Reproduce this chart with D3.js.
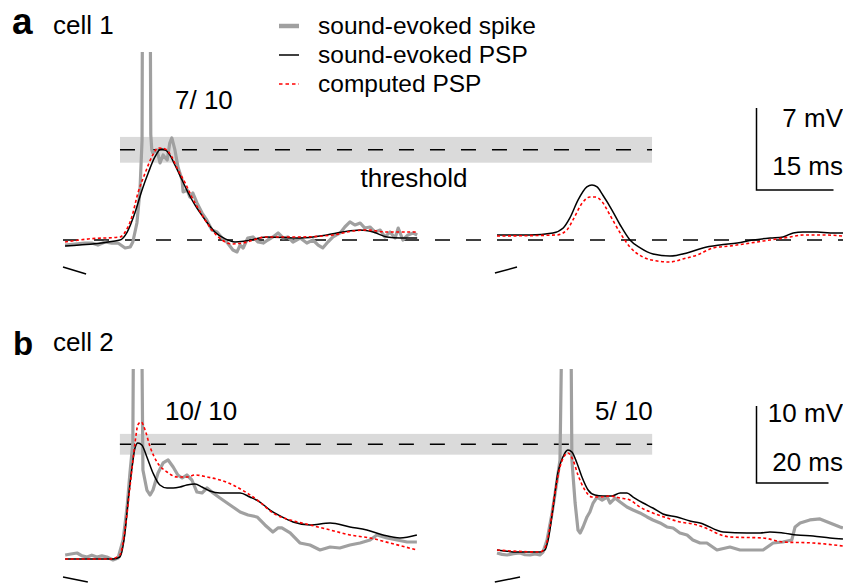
<!DOCTYPE html>
<html><head><meta charset="utf-8">
<script src="https://cdn.jsdelivr.net/npm/d3@7"></script>
<style>
body{margin:0;background:#fff}
svg{display:block}
text{font-family:"Liberation Sans",Arial,Helvetica,sans-serif;fill:#000}
</style>
</head><body>
<svg id="chart" width="843" height="583"></svg>
<script>
// ---------------- DATA (time in ms, membrane potential in mV) ----------------
const legendLabels = ["sound-evoked spike", "sound-evoked PSP", "computed PSP"];
const panelLetters = ["a", "b"];
const cellNames = ["cell 1", "cell 2"];
const spikeCountsCell1 = ["7/ 10"];
const spikeCountsCell2 = ["10/ 10", "5/ 10"];
const scaleBarMV = [7, 10];
const scaleBarMS = [15, 20];
const thresholdMV = [7.7, 14.9];
const thresholdHalfWidthMV = [1.1, 1.35];
const thresholdLabel = "threshold";

// cell 1, first sound (spiking trials)
const cell1SpikeEarly = [[0.4,-0.43],[2.3,-0.34],[4.3,-0.26],[5.6,-0.26],[6.8,-0.43],[8.2,-0.17],[9.5,-0.26],[10.7,-0.26],[12.1,-0.68],[13.1,-0.6],[13.6,-0.17],[14.4,1.45],[15.0,4.27],[15.4,8.5],[15.6,40],[16.8,40],[17.1,9],[17.3,7.69],[17.5,7.43],[18.3,7.69],[18.9,6.58],[19.5,7.26],[20.3,6.83],[20.8,8.28],[21.2,8.71],[21.8,7.69],[22.4,6.23],[23.2,5.12],[23.4,4.1],[24.2,4.27],[24.7,3.67],[25.3,4.01],[26.1,3.16],[27.1,2.3],[28.0,1.71],[29.0,0.85],[30.0,0.68],[31.0,0.17],[31.9,-0.17],[33.1,-0.85],[33.9,-1.02],[34.5,-0.43],[35.1,-0.68],[36.0,0.17],[37.0,0.26],[38.0,-0.17],[39.0,-0.26],[39.9,0],[40.9,0.26],[41.9,0.6],[42.9,0.17],[43.8,0.26],[44.8,-0.17],[46.2,0.17],[47.5,-0.26],[48.7,0],[49.7,-0.43],[50.6,-0.68],[51.6,-0.17],[52.6,0.26],[54.0,0.6],[54.9,1.11],[55.9,1.54],[56.9,1.28],[57.9,1.45],[58.8,1.02],[59.8,1.11],[60.8,0.68],[61.8,0.85],[62.7,0.26],[63.7,0.68],[64.7,0.17],[65.3,1.02],[66.2,0],[67.2,0.43],[68.2,0.6],[69.0,0.43]];
const cell1PspEarly = [[0.4,-0.51],[11.1,0],[12.5,0.68],[14.0,2.31],[15.4,4.27],[16.6,5.72],[17.9,7.09],[19.1,7.77],[19.9,7.69],[20.8,7.26],[21.8,6.4],[23.2,5.12],[24.4,4.01],[25.7,2.99],[27.7,1.71],[29.6,0.68],[31.6,0.09],[33.5,-0.17],[35.5,-0.09],[39.7,0.26],[46.2,0.17],[51.4,0.43],[54.5,0.68],[57.9,0.85],[60.4,0.68],[63.1,0.26],[65.7,0.17],[69.0,0.17]];
const cell1ComputedEarly = [[0.4,-0.17],[4.9,0.09],[11.1,0.26],[12.1,0.68],[13.4,1.96],[14.6,4.01],[16.0,5.72],[17.5,7.26],[18.5,7.86],[19.9,7.77],[21.2,7.09],[22.4,5.98],[23.8,4.87],[25.1,3.67],[27.1,2.13],[29.0,0.85],[31.0,0],[32.9,-0.34],[34.9,-0.26],[39.7,0.26],[46.2,0.26],[52.6,0.43],[56.5,0.77],[59.2,0.85],[63.1,0.68],[67.0,0.68],[69.0,0.68]];
// cell 1, second sound (no spikes)
const cell1PspLate = [[0,0.43],[6.4,0.43],[10.9,0.6],[12.9,1.02],[14.2,1.88],[15.8,3.42],[17.5,4.53],[18.5,4.7],[19.5,4.53],[20.6,3.84],[22.4,2.56],[24.0,1.28],[25.9,0],[27.9,-0.68],[30.4,-1.2],[33.7,-1.37],[37.0,-1.11],[40.1,-0.68],[43.4,-0.43],[46.8,-0.26],[49.9,0],[53.2,0.17],[55.7,0.26],[57.7,0.6],[59.6,0.68],[62.4,0.68],[64.9,0.6],[67.4,0.6]];
const cell1ComputedLate = [[0,0.34],[11.7,0.43],[13.6,0.85],[14.8,1.71],[16.6,3.16],[18.1,3.67],[19.1,3.67],[20.5,3.25],[22.0,2.13],[24.0,0.6],[25.9,-0.6],[28.4,-1.45],[31.2,-1.79],[33.7,-1.88],[36.2,-1.62],[39.0,-1.28],[42.1,-0.68],[45.4,-0.51],[49.3,-0.26],[53.2,0],[57.1,0.26],[59.6,0.43],[63.5,0.43],[67.4,0.34]];

// cell 2, first sound
const cell2SpikeEarly = [[0.6,0.52],[2.2,0.65],[3.9,0.78],[5.3,0.4],[6.7,0.26],[8.0,0.5],[9.4,0.26],[10.8,0.4],[12.2,0.26],[13.9,-0.13],[15.3,0.13],[16.7,2.47],[17.8,6.75],[18.6,11.17],[19.4,15.07],[19.7,40],[21.7,40],[22.2,11.56],[23.3,8.96],[24.2,8.31],[25.0,8.96],[26.4,11.17],[27.8,12.47],[29.2,12.86],[30.6,11.95],[31.9,10.91],[33.1,10.52],[34.4,10.91],[35.8,10.26],[37.2,8.7],[38.6,8.57],[40.0,9.22],[41.7,8.57],[43.6,7.92],[45.6,7.27],[47.2,6.75],[49.2,6.11],[51.4,5.72],[53.9,5.46],[56.1,4.42],[58.3,3.51],[59.7,4.03],[60.8,4.03],[63.1,3.38],[65.8,2.08],[68.6,1.82],[71.4,1.17],[74.2,1.56],[76.9,1.43],[79.7,1.82],[82.5,2.08],[85.3,2.47],[87.2,3.12],[90.0,2.73],[92.8,2.47],[95.6,2.21],[98.3,2.21]];
const cell2PspEarly = [[0.6,0],[13.9,0],[15.8,0.26],[17.2,3.38],[18.1,7.66],[19.2,11.95],[20.0,14.42],[20.8,15.07],[21.9,14.81],[23.3,13.25],[25.0,11.17],[26.9,9.61],[28.9,9.22],[30.6,9.22],[32.5,9.35],[34.4,9.61],[36.7,9.74],[38.6,9.35],[40.8,8.83],[43.6,8.57],[46.4,8.57],[49.2,8.57],[51.9,8.05],[54.7,7.4],[57.5,6.36],[60.3,5.59],[63.9,4.81],[68.6,4.42],[74.2,4.68],[79.7,4.16],[84.4,3.77],[88.9,3.12],[93.6,2.73],[98.3,3.12]];
const cell2ComputedEarly = [[0.6,0],[13.1,0],[15.8,0.52],[17.2,3.77],[18.6,9.35],[20.0,15.07],[20.8,17.41],[21.7,17.8],[22.8,16.76],[24.2,14.55],[26.1,12.6],[28.9,11.3],[31.7,10.65],[34.4,10.65],[36.7,10.91],[40.0,10.65],[43.6,10.26],[47.2,9.61],[51.1,8.57],[54.7,7.4],[58.3,5.98],[63.1,5.07],[68.6,4.42],[74.2,3.77],[79.7,3.12],[85.3,2.73],[90.8,2.08],[98.3,1.17]];
// cell 2, second sound
const cell2SpikeLate = [[0,0.78],[1.4,0.6],[2.8,0.52],[4.6,0.7],[6.4,0.78],[7.8,0.55],[9.2,0.52],[10.6,0.65],[11.9,0.52],[12.8,0.91],[13.9,2.47],[15.3,5.98],[16.7,10.26],[17.5,12.86],[18.3,40],[20.4,40],[20.8,12.86],[21.7,7.27],[22.5,3.77],[23.1,3.38],[23.9,4.16],[25.0,5.46],[25.8,6.11],[26.7,7.27],[27.8,8.05],[29.2,7.66],[30.6,8.05],[31.4,7.27],[32.8,7.92],[34.2,7.4],[36.1,6.75],[37.8,6.36],[39.7,5.98],[41.7,5.46],[43.3,5.07],[45.3,4.68],[47.2,4.16],[48.9,4.03],[50.8,3.38],[52.8,3.12],[54.4,2.47],[56.4,2.08],[58.3,2.08],[61.1,1.17],[64.7,1.56],[67.5,1.17],[70.3,1.17],[73.9,1.17],[76.7,2.08],[79.4,2.21],[81.9,2.47],[82.8,4.16],[84.2,4.68],[86.9,5.07],[89.7,5.2],[92.5,4.68],[95.3,4.16],[96.1,4.03]];
const cell2PspLate = [[0,1.17],[5.6,0.91],[11.9,0.91],[13.3,1.17],[14.2,2.47],[15.6,6.75],[16.9,11.17],[18.3,13.25],[19.7,14.16],[20.8,13.9],[22.2,12.47],[23.6,10.65],[25.3,8.96],[27.2,8.31],[29.4,8.18],[31.9,8.18],[34.2,8.57],[36.1,8.57],[37.8,8.05],[40.6,7.27],[43.3,6.62],[46.1,5.85],[50.0,5.46],[53.6,4.94],[56.4,4.68],[62.8,3.51],[69.4,3.38],[73.1,3.38],[75.8,3.51],[79.4,3.38],[83.3,3.12],[87.8,2.99],[92.5,2.73],[96.1,2.6]];
const cell2ComputedLate = [[0,1.17],[11.9,0.91],[13.3,1.43],[14.7,4.16],[16.1,8.57],[17.5,11.95],[18.9,13.51],[19.7,13.77],[21.1,12.86],[22.5,10.91],[24.4,8.96],[26.4,8.05],[28.6,8.05],[31.4,8.18],[34.2,7.92],[36.9,7.66],[39.7,6.75],[43.3,5.98],[47.2,5.33],[50.8,4.81],[54.4,4.55],[56.4,4.29],[64.7,2.86],[73.9,2.73],[79.4,2.21],[87.8,2.08],[96.1,1.69]];

// stimulus markers: [t0, v0, t1, v1]
const cell1StimEarly = [0, -2.31, 4.5, -2.9];
const cell1StimLate = [-0.4, -2.82, 3.9, -2.31];
const cell2StimEarly = [0, -2.34, 6.9, -2.99];
const cell2StimLate = [-0.6, -2.99, 6.4, -2.34];

// ---------------- DRAWING ----------------
const svg = d3.select("#chart");
const GRAY = "#a0a0a0", RED = "#ff0000", BAND = "#dadada";
const DASH = "15,16";
const FS = 26;

const xA1 = d3.scaleLinear().domain([0, 15]).range([63, 140]);
const xA2 = d3.scaleLinear().domain([0, 15]).range([497, 574]);
const yA = d3.scaleLinear().domain([0, 7]).range([240, 158]);
const xB1 = d3.scaleLinear().domain([0, 20]).range([63, 135]);
const xB2 = d3.scaleLinear().domain([0, 20]).range([497, 569]);
const yB = d3.scaleLinear().domain([0, 10]).range([559, 482]);

const defs = svg.append("defs");
defs.append("clipPath").attr("id", "clipA").append("rect").attr("x", 0).attr("y", 52).attr("width", 843).attr("height", 250);
defs.append("clipPath").attr("id", "clipB").append("rect").attr("x", 0).attr("y", 369).attr("width", 843).attr("height", 214);

function drawThreshold(g, xl, xr, y, thr, half, tl, tr) {
  g.append("rect")
    .attr("x", xl(tl)).attr("width", xr(tr) - xl(tl))
    .attr("y", y(thr + half)).attr("height", y(thr - half) - y(thr + half))
    .attr("fill", BAND);
  g.append("line")
    .attr("x1", xl(tl)).attr("x2", xr(tr))
    .attr("y1", y(thr)).attr("y2", y(thr))
    .attr("stroke", "#000").attr("stroke-width", 1.6).attr("stroke-dasharray", DASH);
}

function drawTrace(g, data, x, y, kind) {
  const line = d3.line().x(d => x(d[0])).y(d => y(d[1]))
    .curve(kind === "spike" ? d3.curveLinear : d3.curveMonotoneX);
  const p = g.append("path").datum(data).attr("d", line).attr("fill", "none");
  if (kind === "spike") p.attr("stroke", GRAY).attr("stroke-width", 3.2).attr("stroke-linejoin", "round");
  else if (kind === "psp") p.attr("stroke", "#000").attr("stroke-width", 1.5);
  else p.attr("stroke", RED).attr("stroke-width", 1.6).attr("stroke-dasharray", "3,2.5");
}

function drawStim(g, s, x, y) {
  g.append("line").attr("x1", x(s[0])).attr("y1", y(s[1])).attr("x2", x(s[2])).attr("y2", y(s[3]))
    .attr("stroke", "#000").attr("stroke-width", 1.5);
}

function drawScaleBar(g, x0, yTop, y, mv, xs, ms, mvLabelY, msLabelY) {
  const h = y(0) - y(mv);
  const w = xs(ms) - xs(0);
  g.append("path")
    .attr("d", `M${x0},${yTop}V${yTop + h}H${x0 + w}`)
    .attr("fill", "none").attr("stroke", "#000").attr("stroke-width", 1.5);
  g.append("text").attr("x", 843).attr("y", mvLabelY).attr("text-anchor", "end")
    .attr("font-size", FS).text(mv + " mV");
  g.append("text").attr("x", 843).attr("y", msLabelY).attr("text-anchor", "end")
    .attr("font-size", FS).text(ms + " ms");
}

// ---- panel a ----
const gA = svg.append("g");
drawThreshold(gA, xA1, xA2, yA, thresholdMV[0], thresholdHalfWidthMV[0], 11.1, 30.2);
gA.append("line").attr("x1", xA1(0)).attr("x2", xA2(67.4)).attr("y1", yA(0)).attr("y2", yA(0))
  .attr("stroke", "#000").attr("stroke-width", 1.6).attr("stroke-dasharray", DASH);
const gAt = gA.append("g").attr("clip-path", "url(#clipA)");
drawTrace(gAt, cell1SpikeEarly, xA1, yA, "spike");
drawTrace(gAt, cell1PspEarly, xA1, yA, "psp");
drawTrace(gAt, cell1ComputedEarly, xA1, yA, "computed");
drawTrace(gAt, cell1PspLate, xA2, yA, "psp");
drawTrace(gAt, cell1ComputedLate, xA2, yA, "computed");
drawStim(gA, cell1StimEarly, xA1, yA);
drawStim(gA, cell1StimLate, xA2, yA);
drawScaleBar(gA, 756.5, 108, yA, scaleBarMV[0], xA1, scaleBarMS[0], 127, 175);
gA.append("text").attr("x", 175).attr("y", 109).attr("font-size", FS).text(spikeCountsCell1[0]);
gA.append("text").attr("x", 414).attr("y", 187).attr("text-anchor", "middle").attr("font-size", FS).text(thresholdLabel);

// ---- panel b ----
const gB = svg.append("g");
drawThreshold(gB, xB1, xB2, yB, thresholdMV[1], thresholdHalfWidthMV[1], 15.8, 43.1);
const gBt = gB.append("g").attr("clip-path", "url(#clipB)");
drawTrace(gBt, cell2SpikeEarly, xB1, yB, "spike");
drawTrace(gBt, cell2PspEarly, xB1, yB, "psp");
drawTrace(gBt, cell2ComputedEarly, xB1, yB, "computed");
drawTrace(gBt, cell2SpikeLate, xB2, yB, "spike");
drawTrace(gBt, cell2PspLate, xB2, yB, "psp");
drawTrace(gBt, cell2ComputedLate, xB2, yB, "computed");
drawStim(gB, cell2StimEarly, xB1, yB);
drawStim(gB, cell2StimLate, xB2, yB);
drawScaleBar(gB, 756.5, 406, yB, scaleBarMV[1], xB1, scaleBarMS[1], 422, 471);
gB.append("text").attr("x", 165).attr("y", 420).attr("font-size", FS).text(spikeCountsCell2[0]);
gB.append("text").attr("x", 595).attr("y", 420).attr("font-size", FS).text(spikeCountsCell2[1]);

// ---- panel labels ----
svg.append("text").attr("x", 12).attr("y", 34).attr("font-size", 37).attr("font-weight", "bold").text(panelLetters[0]);
svg.append("text").attr("x", 53).attr("y", 34).attr("font-size", FS).text(cellNames[0]);
svg.append("text").attr("x", 13).attr("y", 355).attr("font-size", 33).attr("font-weight", "bold").text(panelLetters[1]);
svg.append("text").attr("x", 53).attr("y", 351).attr("font-size", FS).text(cellNames[1]);

// ---- legend ----
const legY = [34, 63, 92];
const leg = svg.append("g");
legendLabels.forEach((lab, i) => {
  const ly = legY[i] - 8;
  const l = leg.append("line").attr("x1", 279).attr("x2", 299).attr("y1", ly).attr("y2", ly);
  if (i === 0) l.attr("stroke", GRAY).attr("stroke-width", 4.5);
  else if (i === 1) l.attr("stroke", "#000").attr("stroke-width", 1.5);
  else l.attr("stroke", RED).attr("stroke-width", 1.6).attr("stroke-dasharray", "3.5,3");
  leg.append("text").attr("x", 318).attr("y", legY[i]).attr("font-size", 24.5).text(lab);
});
</script>
</body></html>
